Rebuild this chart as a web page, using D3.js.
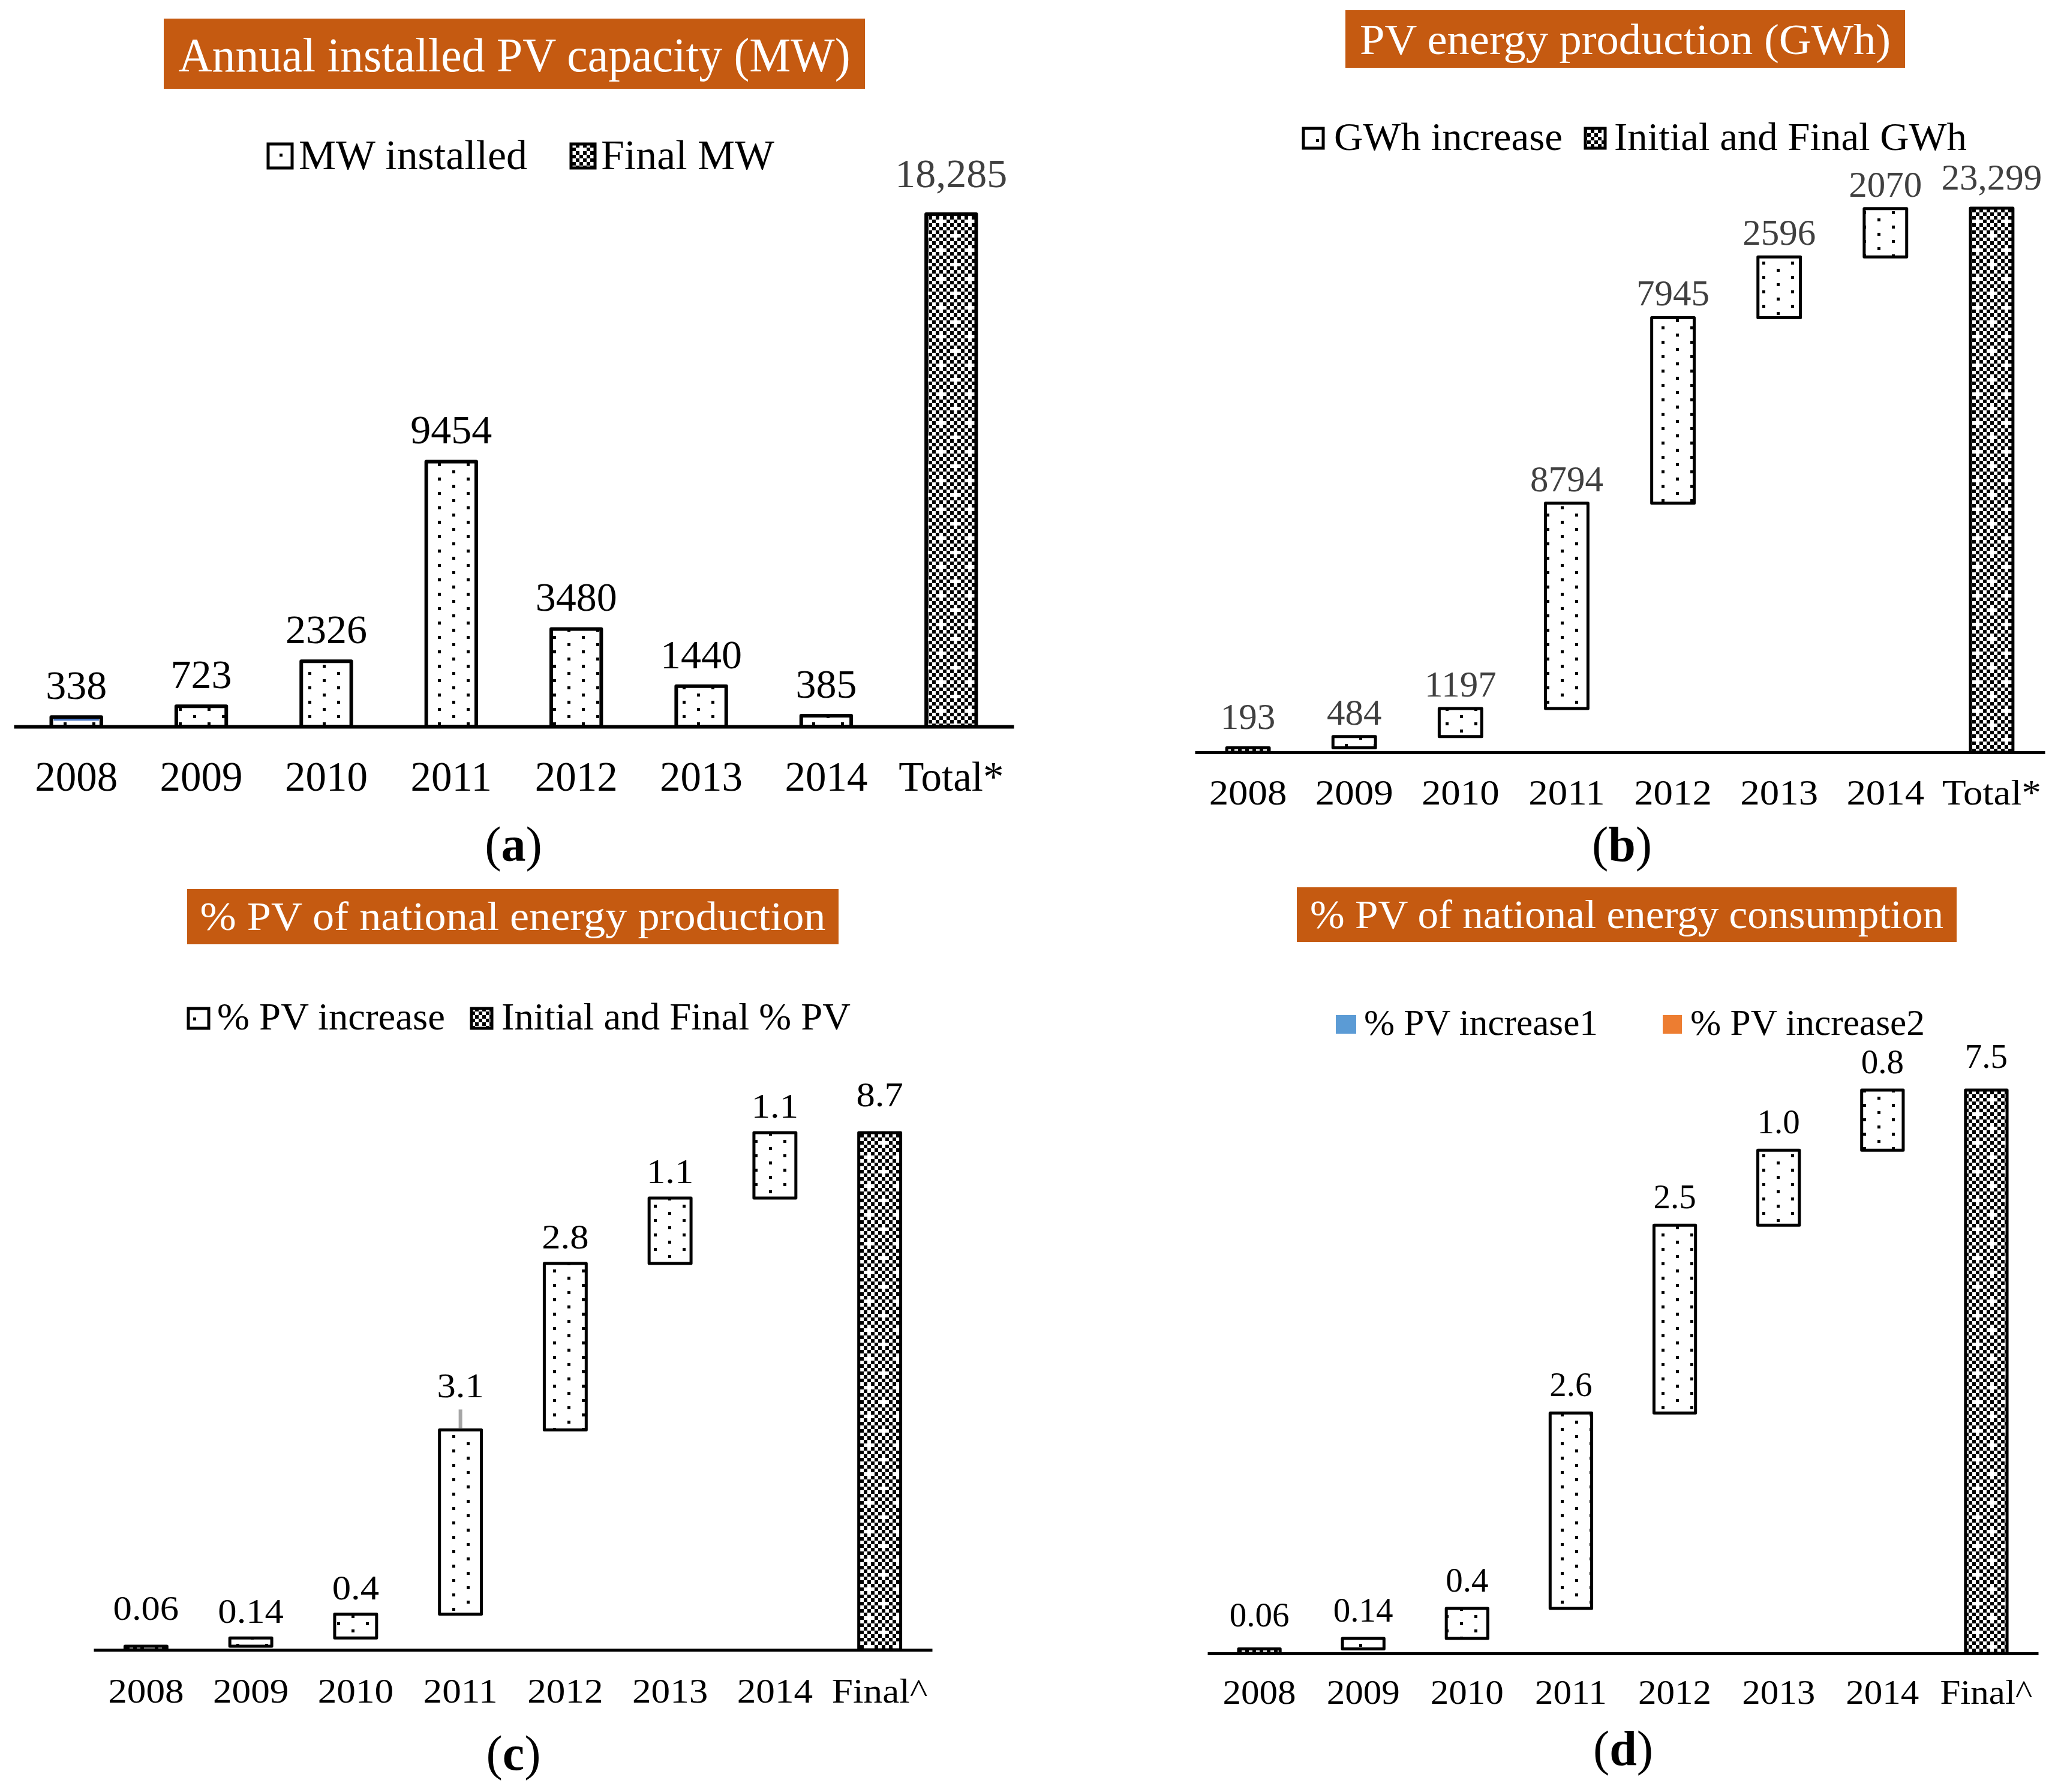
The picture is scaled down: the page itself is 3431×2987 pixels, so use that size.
<!DOCTYPE html>
<html><head><meta charset="utf-8">
<script src="https://cdn.jsdelivr.net/npm/d3@7"></script>
<style>
html,body{margin:0;padding:0;background:#fff;}
svg{display:block;font-family:"Liberation Serif","Times New Roman",serif;}
</style>
</head><body>
<svg id="chart" width="3431" height="2987"></svg>
<script>
// ---------------- DATA ----------------
const categoriesA = ["2008","2009","2010","2011","2012","2013","2014","Total*"];
const mwInstalled = [338, 723, 2326, 9454, 3480, 1440, 385];
const finalMW = 18285;

const categoriesB = ["2008","2009","2010","2011","2012","2013","2014","Total*"];
const gwhInitial = 193;
const gwhIncrease = [484, 1197, 8794, 7945, 2596, 2070];
const gwhFinal = 23299;

const categoriesC = ["2008","2009","2010","2011","2012","2013","2014","Final^"];
const prodInitial = 0.06;
const prodIncrease = [0.14, 0.4, 3.1, 2.8, 1.1, 1.1];
const prodFinal = 8.7;

const categoriesD = ["2008","2009","2010","2011","2012","2013","2014","Final^"];
const consInitial = 0.06;
const consIncrease = [0.14, 0.4, 2.6, 2.5, 1.0, 0.8];
const consFinal = 7.5;

const titles = ["Annual installed PV capacity (MW)", "PV energy production (GWh)",
                "% PV of national energy production", "% PV of national energy consumption"];
const legendA = ["MW installed", "Final MW"];
const legendB = ["GWh increase", "Initial and Final GWh"];
const legendC = ["% PV increase", "Initial and Final % PV"];
const legendD = ["% PV increase1", "% PV increase2"];

// ---------------- HELPERS ----------------
const svg = d3.select("#chart");
const fmtInt = (v, tot) => tot ? d3.format(",")(v) : String(v);
const fmtPct = v => { const t = v * 10; return Math.abs(t - Math.round(t)) < 1e-9 ? v.toFixed(1) : v.toFixed(2); };

function simpleBars(vals, final) {
  const b = vals.map(v => ({y0: 0, y1: v, value: v, kind: "inc"}));
  b.push({y0: 0, y1: final, value: final, kind: "tot"});
  return b;
}
function waterfall(initial, inc, final) {
  const b = [{y0: 0, y1: initial, value: initial, kind: "tot"}];
  let c = initial;
  inc.forEach(v => { b.push({y0: c, y1: c + v, value: v, kind: "inc"}); c += v; });
  b.push({y0: 0, y1: final, value: final, kind: "tot"});
  return b;
}
function stretch(sel, sx) {
  if (!sx || sx === 1) return;
  sel.each(function () {
    const w = this.getComputedTextLength();
    d3.select(this).attr("textLength", w * sx).attr("lengthAdjust", "spacingAndGlyphs");
  });
}

// ---------------- PATTERNS ----------------
const defs = svg.append("defs");
const dots = defs.append("pattern").attr("id", "dots").attr("patternUnits", "userSpaceOnUse")
  .attr("width", 48).attr("height", 24);
dots.append("rect").attr("width", 48).attr("height", 24).attr("fill", "#fff");
dots.append("rect").attr("x", 10).attr("y", 4).attr("width", 5).attr("height", 5).attr("fill", "#000");
dots.append("rect").attr("x", 34).attr("y", 16).attr("width", 5).attr("height", 5).attr("fill", "#000");

const chk = defs.append("pattern").attr("id", "chk").attr("patternUnits", "userSpaceOnUse")
  .attr("width", 48).attr("height", 48);
chk.append("rect").attr("width", 48).attr("height", 48).attr("fill", "#fff");
const cells = [];
for (let i = 0; i < 8; i++) for (let j = 0; j < 8; j++) {
  if ((i + j) % 2 === 0 && !((i === 1 && j === 1) || (i === 5 && j === 5))) cells.push([i, j]);
}
chk.selectAll("rect.c").data(cells).join("rect").attr("class", "c")
  .attr("x", d => d[0] * 6).attr("y", d => d[1] * 6).attr("width", 6).attr("height", 6).attr("fill", "#000");

// ---------------- PANELS ----------------
const panels = [
  { cats: categoriesA, bars: simpleBars(mwInstalled, finalMW), ymax: finalMW, fmt: fmtInt,
    xr: [23, 1690], base: 1211, top: 357, pad: 0.6, bs: 6, aw: 6,
    tickY: 107, tickFont: 69, tickSx: 1, valFont: 68, valSx: 1, valOff: 30, totOff: 45,
    incColor: "#000", totColor: "#404040",
    title: titles[0], tbox: [273, 31, 1169, 117], tBase: 119, tFont: 80, tLen: 1120,
    legend: [
      {x: 447, y: 240, w: 40, h: 40, fill: "url(#dots)", stroke: true, tx: 498, text: legendA[0], len: 381},
      {x: 952, y: 240, w: 40, h: 40, fill: "url(#chk)", stroke: true, tx: 1002, text: legendA[1], len: 289}],
    lBase: 282, lFont: 70, letter: "a", lab: [856, 1435], blueTop: true },
  { cats: categoriesB, bars: waterfall(gwhInitial, gwhIncrease, gwhFinal), ymax: gwhFinal, fmt: fmtInt,
    xr: [1992, 3409], base: 1254, top: 347, pad: 0.6, bs: 5, aw: 5,
    tickY: 87, tickFont: 59, tickSx: 1.1, valFont: 61, valSx: 1, valOff: 20, totOff: 31,
    incColor: "#404040", totColor: "#404040",
    title: titles[1], tbox: [2243, 17, 933, 96], tBase: 90, tFont: 72, tLen: 885,
    legend: [
      {x: 2173, y: 214, w: 33, h: 33, fill: "url(#dots)", stroke: true, tx: 2224, text: legendB[0], len: 381},
      {x: 2643, y: 214, w: 33, h: 33, fill: "url(#chk)", stroke: true, tx: 2691, text: legendB[1], len: 588}],
    lBase: 250, lFont: 66, letter: "b", lab: [2704, 1435] },
  { cats: categoriesC, bars: waterfall(prodInitial, prodIncrease, prodFinal), ymax: prodFinal, fmt: fmtPct,
    xr: [156, 1554], base: 2750, top: 1888, pad: 0.6, bs: 5, aw: 5,
    tickY: 88, tickFont: 58, tickSx: 1.09, valFont: 58, valSx: 1.08, valOff: 25, totOff: 44,
    incColor: "#000", totColor: "#000",
    title: titles[2], tbox: [312, 1482, 1086, 92], tBase: 1550, tFont: 68, tLen: 1043,
    legend: [
      {x: 314, y: 1681, w: 34, h: 33, fill: "url(#dots)", stroke: true, tx: 362, text: legendC[0], len: 380},
      {x: 786, y: 1681, w: 34, h: 33, fill: "url(#chk)", stroke: true, tx: 836, text: legendC[1], len: 582}],
    lBase: 1716, lFont: 63, letter: "c", lab: [856, 2950], leader: 3, leaderOff: 54 },
  { cats: categoriesD, bars: waterfall(consInitial, consIncrease, consFinal), ymax: consFinal, fmt: fmtPct,
    xr: [2013, 3398], base: 2756, top: 1817, pad: 0.6, bs: 5, aw: 5,
    tickY: 84, tickFont: 56, tickSx: 1.09, valFont: 57, valSx: 1, valOff: 28, totOff: 37,
    incColor: "#000", totColor: "#000",
    title: titles[3], tbox: [2162, 1479, 1100, 91], tBase: 1547, tFont: 68, tLen: 1056,
    legend: [
      {x: 2227, y: 1692, w: 34, h: 31, fill: "#5B9BD5", stroke: false, tx: 2274, text: legendD[0], len: 390},
      {x: 2772, y: 1692, w: 32, h: 31, fill: "#ED7D31", stroke: false, tx: 2818, text: legendD[1], len: 391}],
    lBase: 1725, lFont: 61, letter: "d", lab: [2706, 2942] }
];

panels.forEach(p => {
  const g = svg.append("g");
  const x = d3.scaleBand().domain(p.cats).range(p.xr).paddingInner(p.pad).paddingOuter(p.pad / 2);
  const y = d3.scaleLinear().domain([0, p.ymax]).range([p.base, p.top]);

  // title
  g.append("rect").attr("x", p.tbox[0]).attr("y", p.tbox[1]).attr("width", p.tbox[2]).attr("height", p.tbox[3])
    .attr("fill", "#C55A11");
  g.append("text").attr("x", p.tbox[0] + p.tbox[2] / 2).attr("y", p.tBase).attr("text-anchor", "middle")
    .attr("font-size", p.tFont).attr("fill", "#fff")
    .attr("textLength", p.tLen).attr("lengthAdjust", "spacingAndGlyphs").text(p.title);

  // legend
  p.legend.forEach(it => {
    g.append("rect").attr("x", it.x).attr("y", it.y).attr("width", it.w).attr("height", it.h)
      .attr("fill", it.fill).attr("stroke", it.stroke ? "#000" : "none").attr("stroke-width", it.stroke ? 5 : 0);
    g.append("text").attr("x", it.tx).attr("y", p.lBase).attr("font-size", p.lFont).attr("fill", "#000")
      .attr("textLength", it.len).attr("lengthAdjust", "spacingAndGlyphs").text(it.text);
  });

  // bars
  const bars = p.bars.map((b, i) => Object.assign({}, b, {cat: p.cats[i], i: i}));
  g.selectAll("rect.bar").data(bars).join("rect").attr("class", "bar")
    .attr("x", d => x(d.cat)).attr("width", x.bandwidth())
    .attr("y", d => y(d.y1)).attr("height", d => Math.max(0, y(d.y0) - y(d.y1)))
    .attr("fill", d => d.kind === "inc" ? "url(#dots)" : "url(#chk)")
    .attr("stroke", "#000").attr("stroke-width", p.bs).attr("stroke-linejoin", "round");

  if (p.blueTop) {
    const b0 = bars[0];
    g.append("line").attr("x1", x(b0.cat) + 4).attr("x2", x(b0.cat) + x.bandwidth() - 4)
      .attr("y1", y(b0.y1) + 4.5).attr("y2", y(b0.y1) + 4.5)
      .attr("stroke", "#4472C4").attr("stroke-width", 3);
  }

  // leader line
  if (p.leader !== undefined) {
    const b = bars[p.leader];
    const cx = x(b.cat) + x.bandwidth() / 2;
    g.append("line").attr("x1", cx).attr("x2", cx).attr("y1", y(b.y1) - 3).attr("y2", y(b.y1) - 34)
      .attr("stroke", "#A6A6A6").attr("stroke-width", 6);
  }

  // axis
  const ax = g.append("g").attr("transform", `translate(0,${p.base})`)
    .call(d3.axisBottom(x).tickSize(0).tickSizeOuter(0));
  ax.attr("font-family", null).attr("font-size", null);
  ax.select(".domain").attr("stroke", "#000").attr("stroke-width", p.aw);
  const tt = ax.selectAll(".tick text").attr("y", p.tickY).attr("dy", null)
    .attr("font-size", p.tickFont).attr("fill", "#000");
  stretch(tt, p.tickSx);

  // value labels
  const vl = g.selectAll("text.val").data(bars).join("text").attr("class", "val")
    .attr("x", d => x(d.cat) + x.bandwidth() / 2)
    .attr("y", d => y(d.y1) - (d.i === p.leader ? p.leaderOff : (d.kind === "tot" ? p.totOff : p.valOff)))
    .attr("text-anchor", "middle").attr("font-size", p.valFont)
    .attr("fill", d => d.kind === "tot" ? p.totColor : p.incColor)
    .text(d => p.fmt(d.value, d.kind === "tot" && d.i === bars.length - 1));
  stretch(vl, p.valSx);

  // panel letter
  const pl = g.append("text").attr("x", p.lab[0]).attr("y", p.lab[1]).attr("text-anchor", "middle")
    .attr("font-size", 82).attr("fill", "#000");
  pl.append("tspan").text("(");
  pl.append("tspan").attr("font-weight", "bold").text(p.letter);
  pl.append("tspan").text(")");
});
</script>
</body></html>
